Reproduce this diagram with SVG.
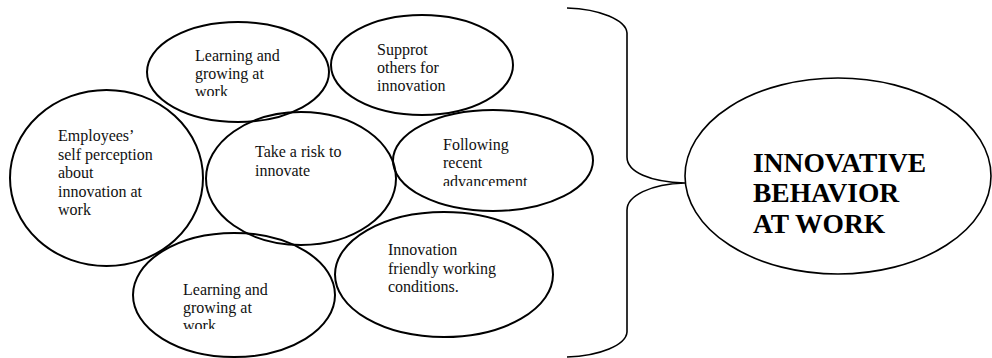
<svg xmlns="http://www.w3.org/2000/svg" width="992" height="358" viewBox="0 0 992 358">
<style>
.n{fill:none;stroke:#000;stroke-width:2}
.big{fill:none;stroke:#000;stroke-width:1.6}
.t{font-family:"Liberation Serif","Times New Roman",serif;font-size:16px;fill:#111}
.b{font-family:"Liberation Serif","Times New Roman",serif;font-size:27.5px;font-weight:bold;fill:#000}
.br{fill:none;stroke:#000;stroke-width:1.6}
</style>
<defs>
<clipPath id="c1"><rect x="0" y="0" width="992" height="96"/></clipPath>
<clipPath id="c5"><rect x="0" y="0" width="992" height="186"/></clipPath>
<clipPath id="c7"><rect x="0" y="0" width="992" height="329"/></clipPath>
</defs>
<g id="connectors">
<path class="br" d="M567,8 C600,9 626,20 627,33 L627,157 C627,172 650,182 685,183 C650,184 627,196 627,210 L627,332 C626,345 600,356 567,357"/>
</g>
<g id="n-learning-top">
<ellipse class="n" cx="238" cy="72" rx="91" ry="50"/>
<text class="t" clip-path="url(#c1)"><tspan x="195" y="61">Learning and</tspan><tspan x="195" y="79">growing at</tspan><tspan x="195" y="97">work</tspan></text>
</g>
<g id="n-support">
<ellipse class="n" cx="422" cy="65" rx="91" ry="50"/>
<text class="t"><tspan x="377" y="55">Supprot</tspan><tspan x="377" y="73">others for</tspan><tspan x="377" y="91">innovation</tspan></text>
</g>
<g id="n-employees">
<ellipse class="n" cx="106.5" cy="178" rx="96.5" ry="88"/>
<text class="t"><tspan x="58" y="141">Employees’</tspan><tspan x="58" y="159.5">self perception</tspan><tspan x="58" y="178">about</tspan><tspan x="58" y="196.5">innovation at</tspan><tspan x="58" y="215">work</tspan></text>
</g>
<g id="n-risk">
<ellipse class="n" cx="301" cy="178.5" rx="95" ry="66.5"/>
<text class="t"><tspan x="255" y="157">Take a risk to</tspan><tspan x="255" y="176">innovate</tspan></text>
</g>
<g id="n-following">
<ellipse class="n" cx="493" cy="160.5" rx="100" ry="50.5"/>
<text class="t" clip-path="url(#c5)"><tspan x="443" y="150">Following</tspan><tspan x="443" y="168">recent</tspan><tspan x="443" y="187">advancement</tspan></text>
</g>
<g id="n-conditions">
<ellipse class="n" cx="444" cy="274.5" rx="109" ry="62.5"/>
<text class="t"><tspan x="388" y="255">Innovation</tspan><tspan x="388" y="274">friendly working</tspan><tspan x="388" y="292">conditions.</tspan></text>
</g>
<g id="n-learning-bottom">
<ellipse class="n" cx="234" cy="295" rx="101" ry="62"/>
<text class="t" clip-path="url(#c7)"><tspan x="183" y="295">Learning and</tspan><tspan x="183" y="313">growing at</tspan><tspan x="183" y="331">work</tspan></text>
</g>
<g id="n-innovative">
<ellipse class="big" cx="838" cy="176" rx="153" ry="98"/>
<text class="b"><tspan x="753" y="172">INNOVATIVE</tspan><tspan x="753" y="202">BEHAVIOR</tspan><tspan x="753" y="233">AT WORK</tspan></text>
</g>
</svg>
